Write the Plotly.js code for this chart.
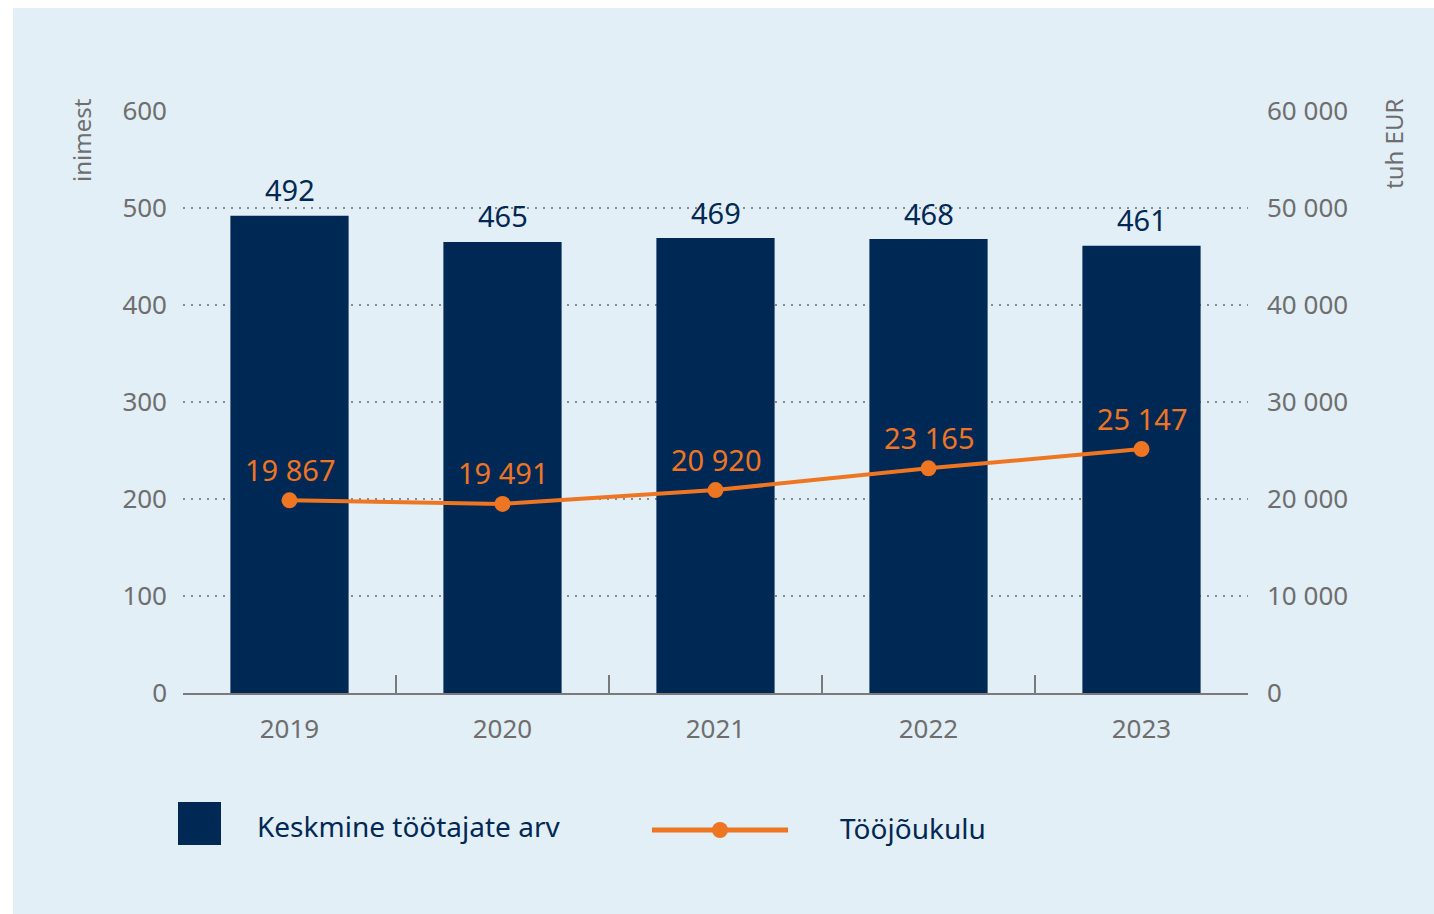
<!DOCTYPE html>
<html>
<head>
<meta charset="utf-8">
<script src="https://cdn.plot.ly/plotly-3.0.1.min.js"></script>
<style>
  html, body { margin: 0; padding: 0; background: #ffffff; width: 1434px; height: 914px; overflow: hidden; }
  #chart { position: absolute; left: 13px; top: 8px; width: 1421px; height: 906px; }
</style>
</head>
<body>
<div id="chart"></div>
<script>
// ---- data ----
const years = ['2019', '2020', '2021', '2022', '2023'];
const employees = [492, 465, 469, 468, 461];          // Keskmine töötajate arv (inimest)
const laborCost = [19867, 19491, 20920, 23165, 25147]; // Tööjõukulu (tuh EUR)
const leftTicks = [0, 100, 200, 300, 400, 500, 600];
const rightTicks = [0, 10000, 20000, 30000, 40000, 50000, 60000];
const barName = 'Keskmine töötajate arv';
const lineName = 'Tööjõukulu';
const leftTitle = 'inimest';
const rightTitle = 'tuh EUR';

// ---- style ----
const NAVY = '#002855';
const ORANGE = '#ee7623';
const GRAY = '#6e6e6e';
const BG = '#e3eff7';
const FONT = 'Noto Sans, Open Sans, sans-serif';

function fmt(n) {
  return String(n).replace(/\B(?=(\d{3})+(?!\d))/g, ' ');
}

// page pixel -> paper coordinate helpers (plot area: x 183..1248, y 111..693 in page px)
const PX0 = 183, PX1 = 1248, PY0 = 693, PY1 = 111;
const px = x => (x - PX0) / (PX1 - PX0);
const py = y => (PY0 - y) / (PY0 - PY1);

const traces = [
  {
    type: 'bar',
    x: years,
    y: employees,
    name: barName,
    marker: { color: NAVY },
    yaxis: 'y',
    hoverinfo: 'skip',
    showlegend: false
  },
  {
    type: 'scatter',
    mode: 'lines+markers',
    x: years,
    y: laborCost,
    name: lineName,
    yaxis: 'y2',
    line: { color: ORANGE, width: 4 },
    marker: { color: ORANGE, size: 16 },
    hoverinfo: 'skip',
    showlegend: false,
    cliponaxis: false
  }
];

const annotations = [];
years.forEach((yr, i) => {
  annotations.push({
    x: i, y: employees[i], xref: 'x', yref: 'y',
    text: String(employees[i]), showarrow: false,
    yanchor: 'middle', yshift: 26,
    font: { family: FONT, size: 29, color: NAVY }
  });
  annotations.push({
    x: i, y: laborCost[i], xref: 'x', yref: 'y2',
    text: fmt(laborCost[i]), showarrow: false,
    yanchor: 'middle', yshift: 31,
    font: { family: FONT, size: 29, color: ORANGE }
  });
});

// axis titles
annotations.push({
  xref: 'paper', yref: 'paper', x: px(81), y: py(140),
  text: leftTitle, textangle: -90, showarrow: false,
  xanchor: 'center', yanchor: 'middle',
  font: { family: FONT, size: 24, color: GRAY }
});
annotations.push({
  xref: 'paper', yref: 'paper', x: px(1393), y: py(144),
  text: rightTitle, textangle: -90, showarrow: false,
  xanchor: 'center', yanchor: 'middle',
  font: { family: FONT, size: 24, color: GRAY }
});

// legend (drawn as layout shapes/text)
annotations.push({
  xref: 'paper', yref: 'paper', x: px(255), y: py(826),
  text: barName, showarrow: false, xanchor: 'left', yanchor: 'middle',
  font: { family: FONT, size: 28, color: NAVY }
});
annotations.push({
  xref: 'paper', yref: 'paper', x: px(838), y: py(828),
  text: lineName, showarrow: false, xanchor: 'left', yanchor: 'middle',
  font: { family: FONT, size: 28, color: NAVY }
});

const shapes = [
  { type: 'rect', xref: 'paper', yref: 'paper',
    x0: px(178), x1: px(221), y0: py(845), y1: py(802),
    fillcolor: NAVY, line: { width: 0 } },
  { type: 'line', xref: 'paper', yref: 'paper',
    x0: px(652), x1: px(788), y0: py(830), y1: py(830),
    line: { color: ORANGE, width: 5 } },
  { type: 'circle', xref: 'paper', yref: 'paper',
    x0: px(712), x1: px(728), y0: py(838), y1: py(822),
    fillcolor: ORANGE, line: { width: 0 } }
];

const layout = {
  width: 1421,
  height: 906,
  paper_bgcolor: BG,
  plot_bgcolor: BG,
  margin: { l: 170, r: 186, t: 103, b: 221, pad: 0 },
  separators: '. ',
  font: { family: FONT, color: GRAY },
  showlegend: false,
  bargap: 0.445,
  xaxis: {
    type: 'category',
    range: [-0.5, years.length - 0.5],
    showgrid: false,
    showline: true,
    linecolor: '#7a7a7a',
    linewidth: 1.5,
    ticks: 'inside',
    tickson: 'boundaries',
    ticklen: 18,
    tickwidth: 1.5,
    tickcolor: '#7a7a7a',
    ticklabelstandoff: 12,
    tickangle: 0,
    tickfont: { family: FONT, size: 26, color: GRAY },
    fixedrange: true
  },
  yaxis: {
    range: [0, 600],
    tickvals: leftTicks,
    showgrid: true,
    gridcolor: '#8a8a8a',
    gridwidth: 2,
    griddash: '2px,6px',
    zeroline: false,
    showline: false,
    ticks: '',
    ticklabelstandoff: 15,
    tickfont: { family: FONT, size: 26, color: GRAY },
    fixedrange: true
  },
  yaxis2: {
    overlaying: 'y',
    side: 'right',
    range: [0, 60000],
    tickvals: rightTicks,
    tickformat: ',d',
    showgrid: false,
    zeroline: false,
    showline: false,
    ticks: '',
    ticklabelstandoff: 18,
    tickfont: { family: FONT, size: 26, color: GRAY },
    fixedrange: true
  },
  annotations: annotations,
  shapes: shapes
};

Plotly.newPlot('chart', traces, layout, { staticPlot: true, displayModeBar: false });
</script>
</body>
</html>
